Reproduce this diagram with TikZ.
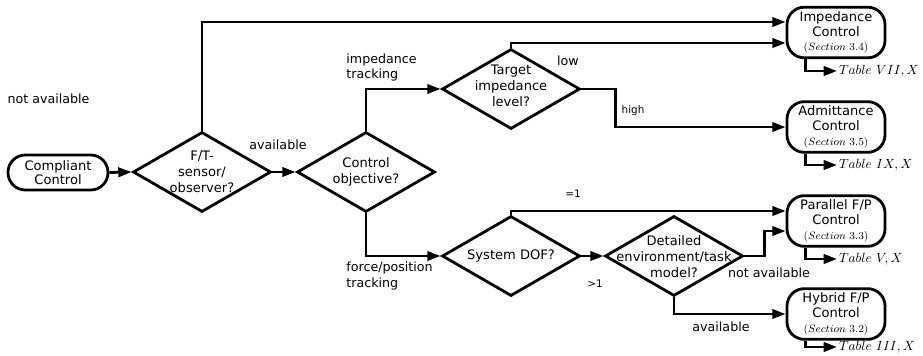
\documentclass[tikz,border=0pt]{standalone}
\usepackage[no-math]{fontspec}
\setmainfont{DejaVu Sans}
\usetikzlibrary{shapes.geometric,arrows.meta,calc}
\newcommand\secx[1]{{\fontsize{8}{9}\selectfont$(Section\ #1)$}}
\begin{document}
\begin{tikzpicture}[x=0.75pt,y=-0.75pt,
  line width=2.1pt,
  arr/.style={-{Triangle[length=10pt,width=7pt]}, line width=2.1pt},
  dia/.style={diamond, draw, minimum width=103.5pt, minimum height=60pt, inner sep=0pt},
  diatext/.style={align=center, font=\fontsize{9.8}{12}\selectfont, inner sep=0pt},
  box/.style={draw, rounded corners=13pt, minimum width=73.5pt, minimum height=38pt, align=center, inner sep=0pt, font=\fontsize{9.8}{11}\selectfont},
  lab/.style={font=\fontsize{9.5}{11.5}\selectfont, inner sep=0pt},
  small/.style={font=\fontsize{7.8}{9}\selectfont, inner sep=0pt},
  tbl/.style={font=\fontsize{10}{12}\selectfont, inner sep=0.5pt, anchor=west},
]
\useasboundingbox (0,0) rectangle (923,356);

% start
\node[box, rounded corners=13pt, minimum width=75pt, minimum height=26.25pt] (cc) at (58,172.5) {Compliant\\Control};

% diamonds
\node[dia] (d1) at (202,172) {};
\node[diatext] (t1) at (202,172) {F/T-\\sensor/\\observer?};
\node[dia] (d2) at (366,172) {};
\node[diatext] (t2) at (366,172) {Control\\objective?};
\node[dia] (d3) at (511,89) {};
\node[diatext] (t3) at (511,86) {Target\\impedance\\level?};
\node[dia] (d4) at (511,256) {};
\node[diatext] (t4) at (511,256) {System DOF?};
\node[dia] (d5) at (674,256) {};
\node[diatext] (t5) at (674,257) {Detailed\\environment/task\\model?};

% end boxes
\node[box] (imp) at (836,32.5) {Impedance\\Control\\\secx{3.4}};
\node[box] (adm) at (836,127) {Admittance\\Control\\\secx{3.5}};
\node[box] (par) at (836,221) {Parallel F/P\\Control\\\secx{3.3}};
\node[box] (hyb) at (836,314) {Hybrid F/P\\Control\\\secx{3.2}};

% table notes
\node[tbl] (n1) at (837,71) {$Table\ VII, X$};
\node[tbl] (n2) at (837,165) {$Table\ IX, X$};
\node[tbl] (n3) at (837,259) {$Table\ V, X$};
\node[tbl] (n4) at (837,347) {$Table\ III, X$};

% connectors
\draw[arr] (cc.east) -- (d1.west);
\draw[arr] (d1.north) |- ($(imp.west)+(0,-10.5)$);
\draw[arr] (d1.east) -- (d2.west);
\draw[arr] (d2.north) |- (d3.west);
\draw[arr] (d3.north) |- ($(imp.west)+(0,10.5)$);
\draw[arr] (d3.east) -- ++(34,0) |- (adm.west);
\draw[arr] (d2.south) |- (d4.west);
\draw[arr] (d4.north) |- ($(par.west)+(0,-10)$);
\draw[arr] (d4.east) -- (d5.west);
\draw[arr] (d5.east) -- ++(20,0) |- ($(par.west)+(0,10)$);
\draw[arr] (d5.south) |- (hyb.west);

\draw[arr] ($(imp.south west)+(20,0)$) |- (n1.west);
\draw[arr] ($(adm.south west)+(20,0)$) |- (n2.west);
\draw[arr] ($(par.south west)+(20,0)$) |- (n3.west);
\draw[arr] ($(hyb.south west)+(20,0)$) |- (n4.west);

% labels
\node[lab] (l1) at (48.5,99) {not available};
\node[lab] (l2) at (278,145) {available};
\node[lab, align=left, anchor=west] (l3) at (345,67.5) {impedance\\tracking};
\node[lab] (l4) at (568,61) {low};
\node[small] (l5) at (633,111) {high};
\node[lab, align=left, anchor=west] (l6) at (345,276) {force/position\\tracking};
\node[small] (l7) at (573,194) {=1};
\node[small] (l8) at (595,284) {>1};
\node[lab] (l9) at (769,273) {not available};
\node[lab] (l10) at (721,327) {available};
\end{tikzpicture}
\end{document}
